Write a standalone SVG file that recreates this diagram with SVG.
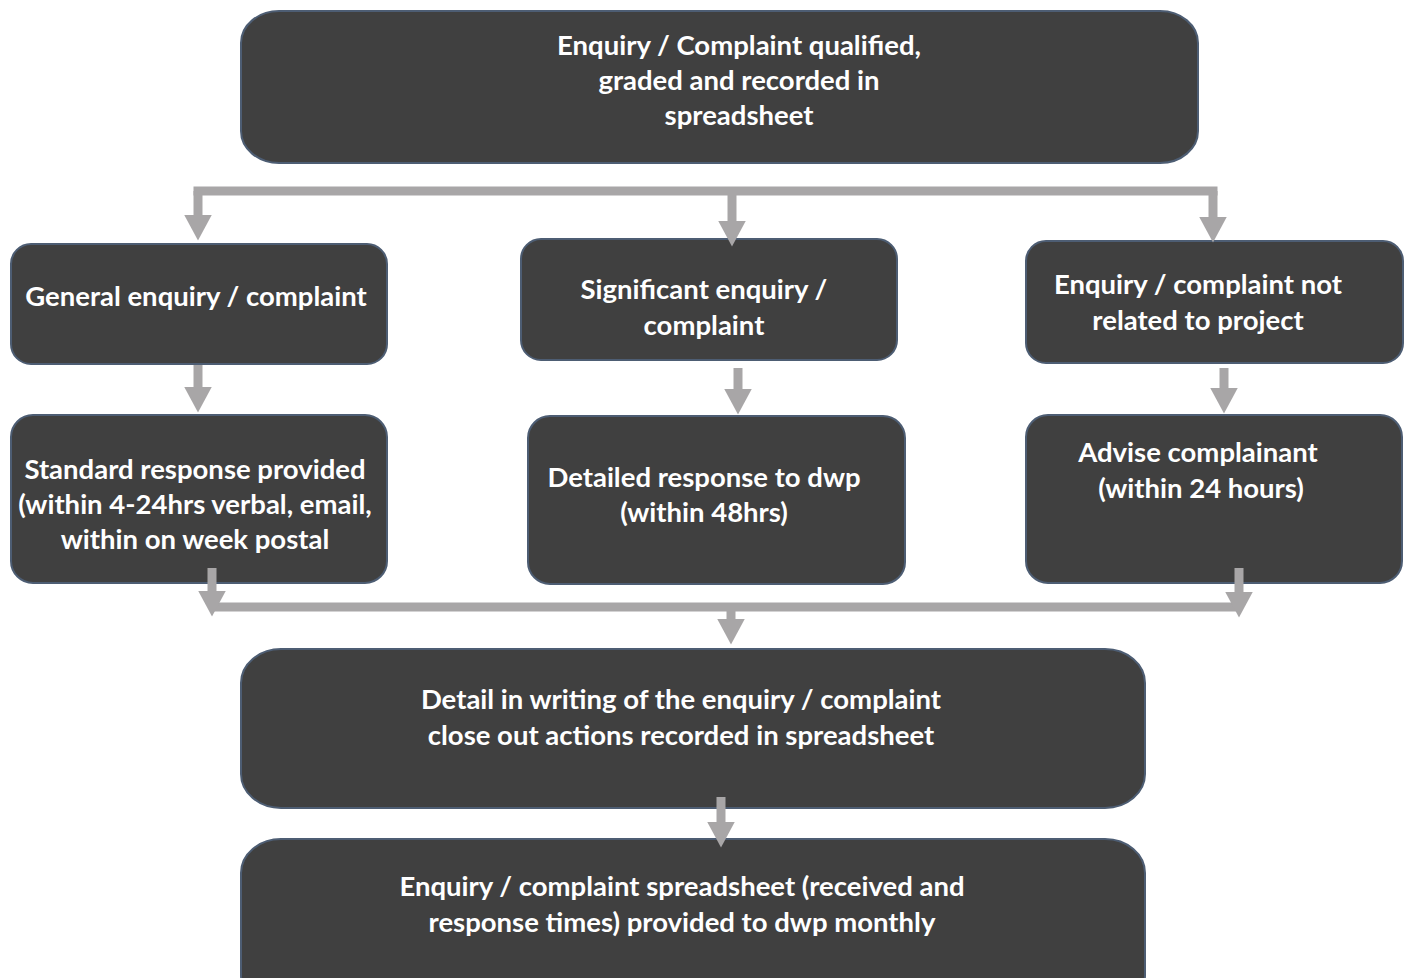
<svg xmlns="http://www.w3.org/2000/svg" width="1411" height="978" viewBox="0 0 1411 978">
<style>
.box{fill:#404040;stroke:#4d5d73;stroke-width:2}
.t{fill:#ffffff;font-family:Lato,"Liberation Sans",sans-serif;font-weight:bold;font-size:27.5px;text-anchor:middle}
.c{fill:none;stroke:#a8a6a7;stroke-width:9}
</style>
<defs>
<marker id="ah" markerUnits="userSpaceOnUse" markerWidth="26" markerHeight="28" viewBox="0 0 26 28" refX="0.5" refY="14" orient="auto">
<path d="M0,0 L26,14 L0,28 z" fill="#a8a6a7"/>
</marker>
</defs>
<rect width="1411" height="978" fill="#ffffff"/>
<g id="n1"><rect class="box" x="241" y="11" width="957" height="152" rx="38" ry="32"/>
<text class="t" x="739" y="55">Enquiry / Complaint qualified,</text>
<text class="t" x="739" y="90">graded and recorded in</text>
<text class="t" x="739" y="125">spreadsheet</text></g>
<g id="n2"><rect class="box" x="11" y="244" width="376" height="120" rx="20"/>
<text class="t" x="196" y="306">General enquiry / complaint</text></g>
<g id="n3"><rect class="box" x="521" y="239" width="376" height="121" rx="20"/>
<text class="t" x="704" y="299">Significant enquiry /</text>
<text class="t" x="704" y="335">complaint</text></g>
<g id="n4"><rect class="box" x="1026" y="241" width="377" height="122" rx="20"/>
<text class="t" x="1198" y="294">Enquiry / complaint not</text>
<text class="t" x="1198" y="330">related to project</text></g>
<g id="n5"><rect class="box" x="11" y="415" width="376" height="168" rx="22"/>
<text class="t" x="195" y="479">Standard response provided</text>
<text class="t" x="195" y="514">(within 4-24hrs verbal, email,</text>
<text class="t" x="195" y="549">within on week postal</text></g>
<g id="n6"><rect class="box" x="528" y="416" width="377" height="168" rx="22"/>
<text class="t" x="704" y="487">Detailed response to dwp</text>
<text class="t" x="704" y="522">(within 48hrs)</text></g>
<g id="n7"><rect class="box" x="1026" y="415" width="376" height="168" rx="22"/>
<text class="t" x="1198" y="462">Advise complainant</text>
<text class="t" x="1201" y="498">(within 24 hours)</text></g>
<g id="n8"><rect class="box" x="241" y="649" width="904" height="159" rx="40" ry="34"/>
<text class="t" x="681" y="709">Detail in writing of the enquiry / complaint</text>
<text class="t" x="681" y="745">close out actions recorded in spreadsheet</text></g>
<g id="n9"><rect class="box" x="241" y="839" width="904" height="170" rx="40" ry="34"/>
<text class="t" x="682" y="896">Enquiry / complaint spreadsheet (received and</text>
<text class="t" x="682" y="932">response times) provided to dwp monthly</text></g>
<g id="connectors">
<path class="c" d="M193.5,191 H1217.5"/>
<path class="c" d="M198,191 V215" marker-end="url(#ah)"/>
<path class="c" d="M732,191 V221" marker-end="url(#ah)"/>
<path class="c" d="M1213,191 V217" marker-end="url(#ah)"/>
<path class="c" d="M198,365 V387" marker-end="url(#ah)"/>
<path class="c" d="M738,368 V389" marker-end="url(#ah)"/>
<path class="c" d="M1224,368 V388" marker-end="url(#ah)"/>
<path class="c" d="M212,607 H1239"/>
<path class="c" d="M212,568 V591" marker-end="url(#ah)"/>
<path class="c" d="M1239,568 V592" marker-end="url(#ah)"/>
<path class="c" d="M731,603 V619" marker-end="url(#ah)"/>
<path class="c" d="M721,797 V822" marker-end="url(#ah)"/>
</g>
</svg>
